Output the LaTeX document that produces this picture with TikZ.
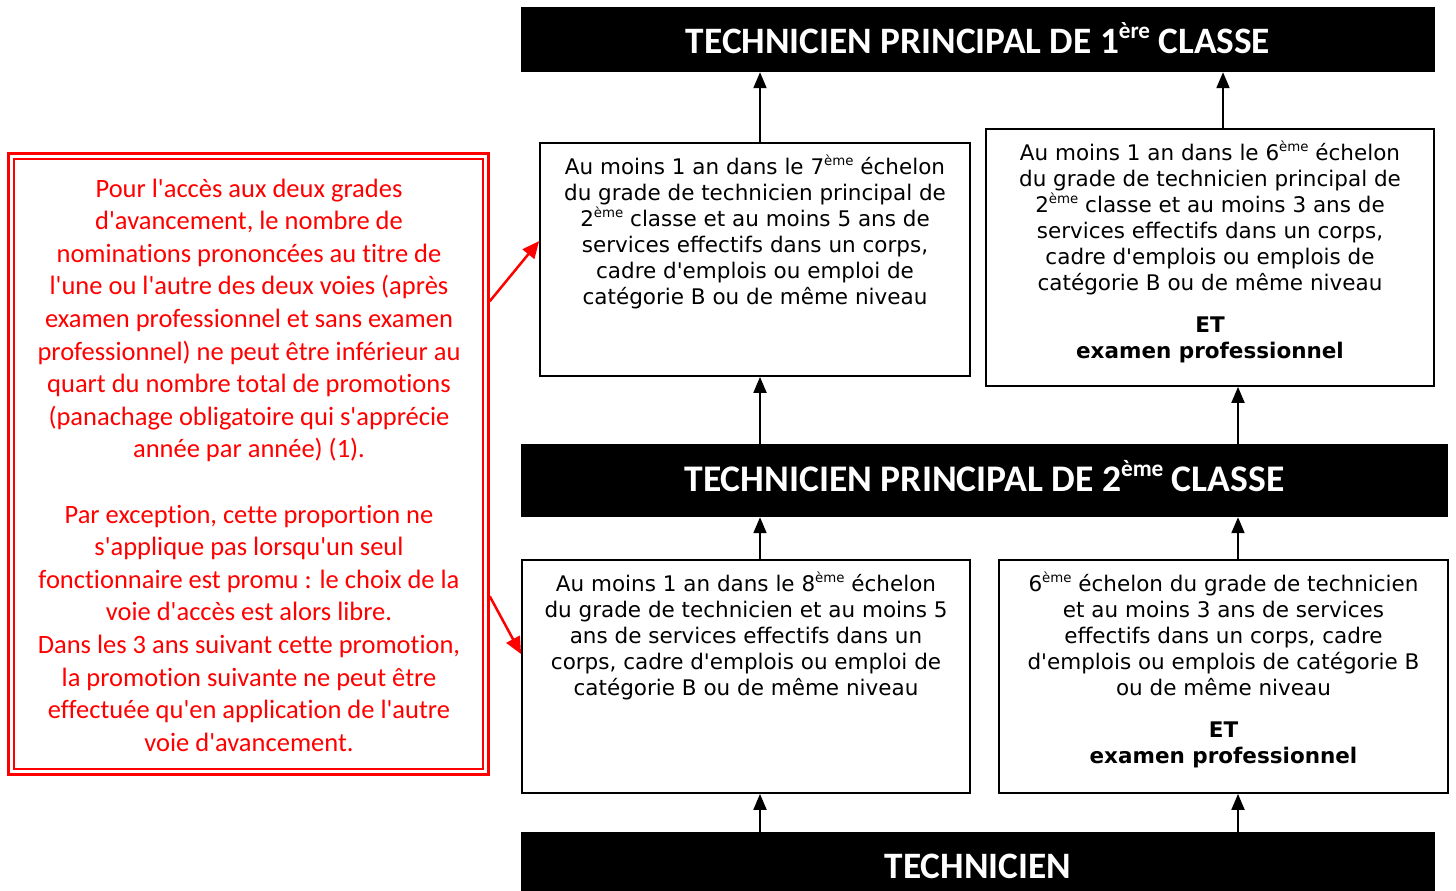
\documentclass[tikz,border=0pt]{standalone}
\usepackage{fontspec}
\newfontfamily\verd{DejaVu Sans}
\newfontfamily\calib{Carlito}[Ligatures=NoCommon]
\usetikzlibrary{arrows.meta,calc}
\newcommand{\sups}[1]{\raisebox{0.42em}{\scalebox{0.62}{#1}}}
\newcommand{\ap}{\textquotesingle}
\begin{document}
\begin{tikzpicture}[x=1pt,y=-1pt,
 bar/.style={fill=black,text=white,inner sep=0pt,text depth=0pt,font=\calib\bfseries\fontsize{37.3}{44}\selectfont},
 box/.style={draw=black,line width=1.8pt,inner sep=0pt},
 btxt/.style={align=center,inner sep=0pt,font=\verd\fontsize{21.5}{26}\selectfont},
 arr/.style={line width=2pt,-{Triangle[length=16pt,width=13pt]}},
 rarr/.style={red,line width=2.5pt,-{Triangle[length=17pt,width=15pt]}},
 notebox/.style={draw=red,line width=2.5pt},
 notetxt/.style={align=center,text=red,inner sep=0pt,font=\calib\fontsize{26.5}{32.6}\selectfont},
]
\fill[white] (0,0) rectangle (1456,891);
\useasboundingbox (0,0) rectangle (1456,891);

% bars
\node[bar,text height=28.8pt,minimum width=914pt,minimum height=65pt] (top) at (978,39.5) {TECHNICIEN PRINCIPAL DE 1\sups{ère} CLASSE};
\node[bar,text height=22.8pt,minimum width=927pt,minimum height=73pt,font=\calib\bfseries\fontsize{37.6}{44}\selectfont] (mid) at (984.5,480.5) {TECHNICIEN PRINCIPAL DE 2\sups{ème} CLASSE};
\node[bar,text height=19.8pt,minimum width=914pt,minimum height=74pt] (bot) at (978,869) {TECHNICIEN};

% boxes
\node[box,minimum width=430pt,minimum height=233pt] (bA) at (755,259.5) {};
\node[box,minimum width=448pt,minimum height=257pt] (bB) at (1210,257.5) {};
\node[box,minimum width=448pt,minimum height=233pt] (bC) at (746,676.5) {};
\node[box,minimum width=449pt,minimum height=233pt] (bD) at (1223.5,676.5) {};

\node[btxt] (tA) at (755,232) {Au moins 1 an dans le 7\sups{ème} échelon\\du grade de technicien principal de\\2\sups{ème} classe et au moins 5 ans de\\services effectifs dans un corps,\\cadre d\ap emplois ou emploi de\\catégorie B ou de même niveau};
\node[btxt] (tB) at (1210,252) {Au moins 1 an dans le 6\sups{ème} échelon\\du grade de technicien principal de\\2\sups{ème} classe et au moins 3 ans de\\services effectifs dans un corps,\\cadre d\ap emplois ou emplois de\\catégorie B ou de même niveau\\[16pt]\textbf{ET}\\\textbf{examen professionnel}};
\node[btxt] (tC) at (746,636) {Au moins 1 an dans le 8\sups{ème} échelon\\du grade de technicien et au moins 5\\ans de services effectifs dans un\\corps, cadre d\ap emplois ou emploi de\\catégorie B ou de même niveau};
\node[btxt] (tD) at (1223.5,670) {6\sups{ème} échelon du grade de technicien\\et au moins 3 ans de services\\effectifs dans un corps, cadre\\d\ap emplois ou emplois de catégorie B\\ou de même niveau\\[16pt]\textbf{ET}\\\textbf{examen professionnel}};

% note
\node[notebox,minimum width=480pt,minimum height=621pt] (note) at (248.5,464) {};
\draw[red,line width=1.8pt] ($(note.north west)+(6.5,6.5)$) rectangle ($(note.south east)+(-6.5,-6.5)$);
\node[notetxt] (ntxt) at (249,465) {Pour l\ap accès aux deux grades\\d\ap avancement, le nombre de\\nominations prononcées au titre de\\l\ap une ou l\ap autre des deux voies (après\\examen professionnel et sans examen\\professionnel) ne peut être inférieur au\\quart du nombre total de promotions\\(panachage obligatoire qui s\ap apprécie\\année par année) (1).\\[32.6pt]Par exception, cette proportion ne\\s\ap applique pas lorsqu\ap un seul\\fonctionnaire est promu : le choix de la\\voie d\ap accès est alors libre.\\Dans les 3 ans suivant cette promotion,\\la promotion suivante ne peut être\\effectuée qu\ap en application de l\ap autre\\voie d\ap avancement.};

% arrows
\coordinate (xa) at (760,0);
\coordinate (xb) at (1223,0);
\coordinate (xc) at (1238,0);
\draw[arr] (xa |- bA.north) -- (xa |- top.south);
\draw[arr] (xb |- bB.north) -- (xb |- top.south);
\draw[arr] (xa |- mid.north) -- (xa |- bA.south);
\draw[arr] (xc |- mid.north) -- (xc |- bB.south);
\draw[arr] (xa |- bC.north) -- (xa |- mid.south);
\draw[arr] (xc |- bD.north) -- (xc |- mid.south);
\draw[arr] (xa |- bot.north) -- (xa |- bC.south);
\draw[arr] (xc |- bot.north) -- (xc |- bD.south);

\draw[rarr] ($(note.north east)+(0,149)$) -- ($(bA.north west)+(0,99)$);
\draw[rarr] ($(note.north east)+(0,444)$) -- ($(bC.north west)+(0,95)$);
\end{tikzpicture}
\end{document}
